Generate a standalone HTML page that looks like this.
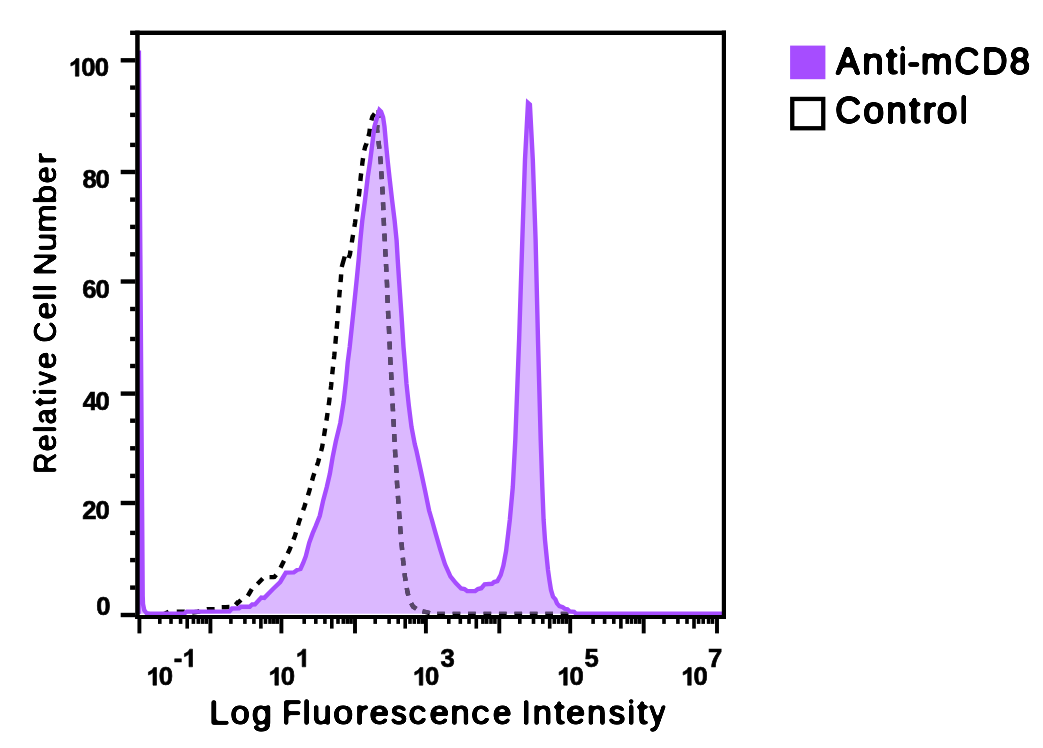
<!DOCTYPE html>
<html><head><meta charset="utf-8"><title>Histogram</title>
<style>html,body{margin:0;padding:0;background:#fff}svg{display:block}text{font-family:"Liberation Sans",sans-serif;fill:#000}</style></head><body>
<svg width="1043" height="748" viewBox="0 0 1043 748">
<defs><filter id="soft" x="-5%" y="-5%" width="110%" height="110%" color-interpolation-filters="sRGB"><feGaussianBlur stdDeviation="0.3"/></filter><filter id="rnd" x="-5%" y="-20%" width="110%" height="140%" color-interpolation-filters="sRGB"><feGaussianBlur stdDeviation="0.8"/><feColorMatrix type="matrix" values="0 0 0 0 0  0 0 0 0 0  0 0 0 0 0  0 0 0 5 -2.4"/></filter></defs>
<rect width="1043" height="748" fill="#fff"/>
<path d="M161.50,614.20 L163.60,614.20 L165.20,613.50 L168.68,611.85 M176.75,611.70 L180.60,611.70 L184.40,611.70 L184.45,611.71 M192.18,612.48 L196.00,612.00 L197.50,611.90 L199.70,611.08 M206.95,609.21 L207.00,609.20 L210.80,609.20 L214.60,609.20 L214.65,609.19 M221.75,607.29 L225.60,607.20 L229.45,607.01 M235.33,601.73 L237.30,603.50 L238.20,602.70 L240.96,600.02 M247.81,595.80 L249.80,592.50 L251.77,589.19 M257.38,584.02 L260.10,581.30 L262.77,578.53 M269.55,577.10 L273.40,577.10 L274.40,577.00 L276.17,574.77 M280.54,567.63 L282.30,564.20 L284.03,560.76 M287.67,553.54 L289.40,550.10 L290.81,546.52 M293.49,539.68 L294.90,536.10 L295.97,532.40 M298.03,525.30 L299.10,521.60 L300.39,517.97 M303.11,510.33 L304.40,506.70 L305.55,503.03 M307.95,495.37 L309.10,491.70 L310.10,487.98 M312.10,480.62 L313.10,476.90 L314.33,473.25 M316.87,465.75 L318.10,462.10 L319.11,458.39 M321.09,451.11 L322.10,447.40 L322.72,443.60 M323.98,436.00 L324.60,432.20 L325.19,428.40 M326.41,420.60 L327.00,416.80 L327.54,412.99 M328.66,405.21 L329.20,401.40 L329.67,397.58 M330.63,389.72 L331.10,385.90 L331.47,382.07 M332.23,374.33 L332.60,370.50 L333.03,366.67 M333.87,359.33 L334.30,355.50 L334.64,351.67 M335.36,343.73 L335.70,339.90 L336.03,336.06 M336.67,328.74 L337.00,324.90 L337.32,321.06 M337.98,313.14 L338.30,309.30 L338.59,305.46 M339.21,297.44 L339.50,293.60 L339.85,289.77 M340.55,282.13 L340.90,278.30 L341.14,274.46 M348.63,258.04 L349.90,254.40 L350.51,250.60 M351.79,242.50 L352.40,238.70 L353.03,234.90 M354.37,226.90 L355.00,223.10 L355.54,219.29 M356.66,211.51 L357.20,207.70 L357.73,203.89 M358.77,196.41 L359.30,192.60 L359.65,188.77 M360.35,181.03 L360.70,177.20 L361.15,173.38 M362.05,165.72 L362.50,161.90 L363.05,158.09 M364.25,150.53 L365.20,146.80 L366.60,143.40 L366.64,143.23 M368.43,136.33 L369.40,132.60 L369.84,128.78 M371.38,120.41 L372.40,116.70 L374.70,113.62 M378.79,110.15 L378.60,114.00 L378.19,117.83 M377.41,125.07 L377.00,128.90 L377.46,132.72 M378.44,140.98 L378.90,144.80 L379.32,148.63 M380.18,156.57 L380.60,160.40 L380.83,164.24 M381.27,171.36 L381.50,175.20 L381.75,179.04 M382.25,186.76 L382.50,190.60 L382.67,194.45 M383.03,202.45 L383.20,206.30 L383.35,210.15 M383.65,217.85 L383.80,221.70 L384.00,225.55 M384.40,233.55 L384.60,237.40 L384.80,241.24 M385.20,249.06 L385.40,252.90 L385.61,256.74 M385.99,264.06 L386.20,267.90 L386.40,271.75 M386.80,279.75 L387.00,283.60 L387.12,287.45 M387.38,295.15 L387.50,299.00 L387.67,302.85 M388.03,310.85 L388.20,314.70 L388.40,318.54 M388.80,326.06 L389.00,329.90 L389.17,333.75 M389.53,341.65 L389.70,345.50 L389.87,349.35 M390.23,357.25 L390.40,361.10 L390.63,364.94 M391.07,372.26 L391.30,376.10 L391.47,379.95 M391.83,387.85 L392.00,391.70 L392.20,395.55 M392.60,403.55 L392.80,407.40 L393.00,411.24 M393.40,419.06 L393.60,422.90 L393.80,426.74 M394.20,434.16 L394.40,438.00 L394.60,441.84 M395.00,449.66 L395.20,453.50 L395.47,457.34 M396.03,465.06 L396.30,468.90 L396.50,472.74 M396.90,480.56 L397.10,484.40 L397.37,488.24 M397.93,495.96 L398.20,499.80 L398.47,503.64 M399.03,511.36 L399.30,515.20 L399.58,519.04 M400.12,526.46 L400.40,530.30 L400.74,534.14 M401.46,542.36 L401.80,546.20 L402.15,550.03 M402.85,557.77 L403.20,561.60 L403.65,565.42 M404.55,573.18 L405.00,577.00 L405.62,580.80 M406.78,588.00 L407.40,591.80 L408.34,595.53 M411.18,603.26 L413.10,606.60 L416.28,608.78 M422.46,611.28 L426.20,612.20 L429.92,613.19 M437.15,614.00 L441.00,614.00 L444.85,614.00 M452.60,614.00 L456.45,614.00 L460.30,614.00 M468.05,614.00 L471.90,614.00 L475.75,614.00 M483.50,614.00 L487.35,614.00 L491.20,614.00 M498.95,614.00 L502.80,614.00 L506.65,614.00 M514.40,614.00 L518.25,614.00 L522.10,614.00 M529.85,614.00 L533.70,614.00 L537.55,614.00 M545.30,614.00 L549.15,614.00 L553.00,614.00 M560.75,614.00 L564.60,614.00 L568.45,614.00 M341.70,267.00 L344.70,256.50" fill="none" stroke="#000" stroke-width="4.4" stroke-linejoin="miter"/>
<polygon points="138.6,613.8 138.9,50.5 142.7,596.0 143.0,604.0 144.2,610.0 146.6,613.3 150.0,613.8 184.0,613.8 186.8,611.6 229.5,611.4 232.0,608.5 239.0,608.3 241.0,606.7 249.8,606.7 252.2,604.5 255.0,604.4 261.3,597.6 264.3,597.9 273.0,589.0 280.2,582.0 285.8,572.6 293.8,572.4 297.1,569.9 300.5,569.0 303.2,563.0 305.8,556.2 309.2,542.8 312.6,533.4 315.8,525.9 319.8,515.8 323.2,500.4 326.8,487.0 329.9,473.6 332.6,457.4 335.8,441.5 340.3,422.9 343.7,401.4 346.1,379.9 347.7,362.4 349.7,347.0 353.7,309.1 357.0,276.8 358.7,259.3 360.3,240.5 362.3,220.4 365.0,200.3 367.7,177.4 370.0,162.0 371.6,149.5 374.4,126.7 377.1,117.3 379.4,110.0 381.1,111.7 383.1,117.3 384.5,126.7 386.2,146.0 387.8,162.0 389.5,177.4 392.1,200.3 394.6,220.4 396.6,240.5 397.7,259.3 399.3,283.6 401.6,317.1 403.5,347.0 404.8,362.4 406.5,383.9 408.8,405.4 411.5,427.0 414.8,444.3 416.3,450.1 420.7,470.3 425.0,490.4 429.1,510.5 431.9,520.0 435.6,533.4 440.3,549.5 445.0,564.3 450.4,576.4 455.8,583.1 461.1,588.5 464.5,589.1 467.2,591.1 475.2,591.1 477.9,589.1 481.3,588.2 484.6,584.4 492.0,583.8 494.0,582.0 497.4,581.1 500.7,575.0 503.4,565.6 506.1,550.9 508.2,533.4 509.8,520.0 512.8,487.0 515.3,440.0 519.1,340.0 522.3,240.0 525.0,159.5 528.0,102.9 529.9,104.6 532.8,159.5 535.6,240.0 538.0,340.0 540.7,440.0 542.3,487.0 543.6,520.0 545.0,540.1 547.0,560.3 548.0,570.0 549.4,580.0 551.0,590.0 553.0,596.7 555.4,599.4 557.0,603.4 559.4,606.1 562.7,607.1 564.7,608.8 567.4,609.4 569.7,611.4 574.1,611.8 576.1,613.8 722.0,613.8 722.0,613.8 138.6,613.8" fill="#a64dff" fill-opacity="0.4"/>
<clipPath id="fc"><polygon points="138.6,613.8 138.9,50.5 142.7,596.0 143.0,604.0 144.2,610.0 146.6,613.3 150.0,613.8 184.0,613.8 186.8,611.6 229.5,611.4 232.0,608.5 239.0,608.3 241.0,606.7 249.8,606.7 252.2,604.5 255.0,604.4 261.3,597.6 264.3,597.9 273.0,589.0 280.2,582.0 285.8,572.6 293.8,572.4 297.1,569.9 300.5,569.0 303.2,563.0 305.8,556.2 309.2,542.8 312.6,533.4 315.8,525.9 319.8,515.8 323.2,500.4 326.8,487.0 329.9,473.6 332.6,457.4 335.8,441.5 340.3,422.9 343.7,401.4 346.1,379.9 347.7,362.4 349.7,347.0 353.7,309.1 357.0,276.8 358.7,259.3 360.3,240.5 362.3,220.4 365.0,200.3 367.7,177.4 370.0,162.0 371.6,149.5 374.4,126.7 377.1,117.3 379.4,110.0 381.1,111.7 383.1,117.3 384.5,126.7 386.2,146.0 387.8,162.0 389.5,177.4 392.1,200.3 394.6,220.4 396.6,240.5 397.7,259.3 399.3,283.6 401.6,317.1 403.5,347.0 404.8,362.4 406.5,383.9 408.8,405.4 411.5,427.0 414.8,444.3 416.3,450.1 420.7,470.3 425.0,490.4 429.1,510.5 431.9,520.0 435.6,533.4 440.3,549.5 445.0,564.3 450.4,576.4 455.8,583.1 461.1,588.5 464.5,589.1 467.2,591.1 475.2,591.1 477.9,589.1 481.3,588.2 484.6,584.4 492.0,583.8 494.0,582.0 497.4,581.1 500.7,575.0 503.4,565.6 506.1,550.9 508.2,533.4 509.8,520.0 512.8,487.0 515.3,440.0 519.1,340.0 522.3,240.0 525.0,159.5 528.0,102.9 529.9,104.6 532.8,159.5 535.6,240.0 538.0,340.0 540.7,440.0 542.3,487.0 543.6,520.0 545.0,540.1 547.0,560.3 548.0,570.0 549.4,580.0 551.0,590.0 553.0,596.7 555.4,599.4 557.0,603.4 559.4,606.1 562.7,607.1 564.7,608.8 567.4,609.4 569.7,611.4 574.1,611.8 576.1,613.8 722.0,613.8 722.0,613.8 138.6,613.8"/></clipPath>
<path clip-path="url(#fc)" d="M161.50,614.20 L163.60,614.20 L165.20,613.50 L168.68,611.85 M176.75,611.70 L180.60,611.70 L184.40,611.70 L184.45,611.71 M192.18,612.48 L196.00,612.00 L197.50,611.90 L199.70,611.08 M206.95,609.21 L207.00,609.20 L210.80,609.20 L214.60,609.20 L214.65,609.19 M221.75,607.29 L225.60,607.20 L229.45,607.01 M235.33,601.73 L237.30,603.50 L238.20,602.70 L240.96,600.02 M247.81,595.80 L249.80,592.50 L251.77,589.19 M257.38,584.02 L260.10,581.30 L262.77,578.53 M269.55,577.10 L273.40,577.10 L274.40,577.00 L276.17,574.77 M280.54,567.63 L282.30,564.20 L284.03,560.76 M287.67,553.54 L289.40,550.10 L290.81,546.52 M293.49,539.68 L294.90,536.10 L295.97,532.40 M298.03,525.30 L299.10,521.60 L300.39,517.97 M303.11,510.33 L304.40,506.70 L305.55,503.03 M307.95,495.37 L309.10,491.70 L310.10,487.98 M312.10,480.62 L313.10,476.90 L314.33,473.25 M316.87,465.75 L318.10,462.10 L319.11,458.39 M321.09,451.11 L322.10,447.40 L322.72,443.60 M323.98,436.00 L324.60,432.20 L325.19,428.40 M326.41,420.60 L327.00,416.80 L327.54,412.99 M328.66,405.21 L329.20,401.40 L329.67,397.58 M330.63,389.72 L331.10,385.90 L331.47,382.07 M332.23,374.33 L332.60,370.50 L333.03,366.67 M333.87,359.33 L334.30,355.50 L334.64,351.67 M335.36,343.73 L335.70,339.90 L336.03,336.06 M336.67,328.74 L337.00,324.90 L337.32,321.06 M337.98,313.14 L338.30,309.30 L338.59,305.46 M339.21,297.44 L339.50,293.60 L339.85,289.77 M340.55,282.13 L340.90,278.30 L341.14,274.46 M348.63,258.04 L349.90,254.40 L350.51,250.60 M351.79,242.50 L352.40,238.70 L353.03,234.90 M354.37,226.90 L355.00,223.10 L355.54,219.29 M356.66,211.51 L357.20,207.70 L357.73,203.89 M358.77,196.41 L359.30,192.60 L359.65,188.77 M360.35,181.03 L360.70,177.20 L361.15,173.38 M362.05,165.72 L362.50,161.90 L363.05,158.09 M364.25,150.53 L365.20,146.80 L366.60,143.40 L366.64,143.23 M368.43,136.33 L369.40,132.60 L369.84,128.78 M371.38,120.41 L372.40,116.70 L374.70,113.62 M378.79,110.15 L378.60,114.00 L378.19,117.83 M377.41,125.07 L377.00,128.90 L377.46,132.72 M378.44,140.98 L378.90,144.80 L379.32,148.63 M380.18,156.57 L380.60,160.40 L380.83,164.24 M381.27,171.36 L381.50,175.20 L381.75,179.04 M382.25,186.76 L382.50,190.60 L382.67,194.45 M383.03,202.45 L383.20,206.30 L383.35,210.15 M383.65,217.85 L383.80,221.70 L384.00,225.55 M384.40,233.55 L384.60,237.40 L384.80,241.24 M385.20,249.06 L385.40,252.90 L385.61,256.74 M385.99,264.06 L386.20,267.90 L386.40,271.75 M386.80,279.75 L387.00,283.60 L387.12,287.45 M387.38,295.15 L387.50,299.00 L387.67,302.85 M388.03,310.85 L388.20,314.70 L388.40,318.54 M388.80,326.06 L389.00,329.90 L389.17,333.75 M389.53,341.65 L389.70,345.50 L389.87,349.35 M390.23,357.25 L390.40,361.10 L390.63,364.94 M391.07,372.26 L391.30,376.10 L391.47,379.95 M391.83,387.85 L392.00,391.70 L392.20,395.55 M392.60,403.55 L392.80,407.40 L393.00,411.24 M393.40,419.06 L393.60,422.90 L393.80,426.74 M394.20,434.16 L394.40,438.00 L394.60,441.84 M395.00,449.66 L395.20,453.50 L395.47,457.34 M396.03,465.06 L396.30,468.90 L396.50,472.74 M396.90,480.56 L397.10,484.40 L397.37,488.24 M397.93,495.96 L398.20,499.80 L398.47,503.64 M399.03,511.36 L399.30,515.20 L399.58,519.04 M400.12,526.46 L400.40,530.30 L400.74,534.14 M401.46,542.36 L401.80,546.20 L402.15,550.03 M402.85,557.77 L403.20,561.60 L403.65,565.42 M404.55,573.18 L405.00,577.00 L405.62,580.80 M406.78,588.00 L407.40,591.80 L408.34,595.53 M411.18,603.26 L413.10,606.60 L416.28,608.78 M422.46,611.28 L426.20,612.20 L429.92,613.19 M437.15,614.00 L441.00,614.00 L444.85,614.00 M452.60,614.00 L456.45,614.00 L460.30,614.00 M468.05,614.00 L471.90,614.00 L475.75,614.00 M483.50,614.00 L487.35,614.00 L491.20,614.00 M498.95,614.00 L502.80,614.00 L506.65,614.00 M514.40,614.00 L518.25,614.00 L522.10,614.00 M529.85,614.00 L533.70,614.00 L537.55,614.00 M545.30,614.00 L549.15,614.00 L553.00,614.00 M560.75,614.00 L564.60,614.00 L568.45,614.00 M341.70,267.00 L344.70,256.50" fill="none" stroke="#584869" stroke-width="4.4" stroke-linejoin="miter"/>
<polyline points="138.6,613.8 138.9,50.5 142.7,596.0 143.0,604.0 144.2,610.0 146.6,613.3 150.0,613.8 184.0,613.8 186.8,611.6 229.5,611.4 232.0,608.5 239.0,608.3 241.0,606.7 249.8,606.7 252.2,604.5 255.0,604.4 261.3,597.6 264.3,597.9 273.0,589.0 280.2,582.0 285.8,572.6 293.8,572.4 297.1,569.9 300.5,569.0 303.2,563.0 305.8,556.2 309.2,542.8 312.6,533.4 315.8,525.9 319.8,515.8 323.2,500.4 326.8,487.0 329.9,473.6 332.6,457.4 335.8,441.5 340.3,422.9 343.7,401.4 346.1,379.9 347.7,362.4 349.7,347.0 353.7,309.1 357.0,276.8 358.7,259.3 360.3,240.5 362.3,220.4 365.0,200.3 367.7,177.4 370.0,162.0 371.6,149.5 374.4,126.7 377.1,117.3 379.4,110.0 381.1,111.7 383.1,117.3 384.5,126.7 386.2,146.0 387.8,162.0 389.5,177.4 392.1,200.3 394.6,220.4 396.6,240.5 397.7,259.3 399.3,283.6 401.6,317.1 403.5,347.0 404.8,362.4 406.5,383.9 408.8,405.4 411.5,427.0 414.8,444.3 416.3,450.1 420.7,470.3 425.0,490.4 429.1,510.5 431.9,520.0 435.6,533.4 440.3,549.5 445.0,564.3 450.4,576.4 455.8,583.1 461.1,588.5 464.5,589.1 467.2,591.1 475.2,591.1 477.9,589.1 481.3,588.2 484.6,584.4 492.0,583.8 494.0,582.0 497.4,581.1 500.7,575.0 503.4,565.6 506.1,550.9 508.2,533.4 509.8,520.0 512.8,487.0 515.3,440.0 519.1,340.0 522.3,240.0 525.0,159.5 528.0,102.9 529.9,104.6 532.8,159.5 535.6,240.0 538.0,340.0 540.7,440.0 542.3,487.0 543.6,520.0 545.0,540.1 547.0,560.3 548.0,570.0 549.4,580.0 551.0,590.0 553.0,596.7 555.4,599.4 557.0,603.4 559.4,606.1 562.7,607.1 564.7,608.8 567.4,609.4 569.7,611.4 574.1,611.8 576.1,613.8 722.0,613.8" fill="none" stroke="#a64dff" stroke-width="4.4" stroke-linejoin="miter" stroke-miterlimit="10"/>
<g fill="#000">
<rect x="130.1" y="30.6" width="595.9" height="4.4"/>
<rect x="721.8" y="30.6" width="4.2" height="588.4"/>
<rect x="135.2" y="30.6" width="4.5" height="588.4"/>
<rect x="135.2" y="615" width="590.8" height="4"/>
<rect x="120.7" y="58.1" width="14.7" height="4.4"/>
<rect x="130.1" y="85.4" width="5.3" height="4.4"/>
<rect x="130.1" y="112.7" width="5.3" height="4.4"/>
<rect x="130.1" y="142.7" width="5.3" height="4.4"/>
<rect x="120.7" y="169.8" width="14.7" height="4.4"/>
<rect x="130.1" y="197.4" width="5.3" height="4.4"/>
<rect x="130.1" y="224.7" width="5.3" height="4.4"/>
<rect x="130.1" y="252.1" width="5.3" height="4.4"/>
<rect x="120.7" y="279.3" width="14.7" height="4.4"/>
<rect x="130.1" y="306.8" width="5.3" height="4.4"/>
<rect x="130.1" y="336.8" width="5.3" height="4.4"/>
<rect x="130.1" y="363.8" width="5.3" height="4.4"/>
<rect x="120.7" y="391.4" width="14.7" height="4.4"/>
<rect x="130.1" y="418.5" width="5.3" height="4.4"/>
<rect x="130.1" y="446.1" width="5.3" height="4.4"/>
<rect x="130.1" y="473.7" width="5.3" height="4.4"/>
<rect x="120.7" y="500.8" width="14.7" height="4.4"/>
<rect x="130.1" y="530.7" width="5.3" height="4.4"/>
<rect x="130.1" y="557.9" width="5.3" height="4.4"/>
<rect x="130.1" y="585.4" width="5.3" height="4.4"/>
<rect x="120.7" y="612.8" width="14.7" height="4.4"/>
<rect x="137.45" y="618" width="3.9" height="15.4"/>
<rect x="208.45" y="618" width="3.9" height="15.4"/>
<rect x="279.45" y="618" width="3.9" height="15.4"/>
<rect x="353.05" y="618" width="3.9" height="15.4"/>
<rect x="423.95" y="618" width="3.9" height="15.4"/>
<rect x="497.35" y="618" width="3.9" height="15.4"/>
<rect x="568.25" y="618" width="3.9" height="15.4"/>
<rect x="641.75" y="618" width="3.9" height="15.4"/>
<rect x="715.05" y="618" width="3.9" height="15.4"/>
<rect x="158.00" y="618" width="3.6" height="5.9"/>
<rect x="169.20" y="618" width="3.6" height="5.9"/>
<rect x="178.80" y="618" width="3.6" height="5.9"/>
<rect x="185.40" y="618" width="3.6" height="10.6"/>
<rect x="191.60" y="618" width="3.6" height="5.9"/>
<rect x="196.50" y="618" width="3.6" height="5.9"/>
<rect x="200.70" y="618" width="3.6" height="5.9"/>
<rect x="204.50" y="618" width="3.6" height="5.9"/>
<rect x="229.10" y="618" width="3.6" height="5.9"/>
<rect x="243.10" y="618" width="3.6" height="5.9"/>
<rect x="252.10" y="618" width="3.6" height="5.9"/>
<rect x="259.10" y="618" width="3.6" height="10.6"/>
<rect x="263.70" y="618" width="3.6" height="5.9"/>
<rect x="268.20" y="618" width="3.6" height="5.9"/>
<rect x="272.00" y="618" width="3.6" height="5.9"/>
<rect x="275.40" y="618" width="3.6" height="5.9"/>
<rect x="302.40" y="618" width="3.6" height="5.9"/>
<rect x="314.00" y="618" width="3.6" height="5.9"/>
<rect x="323.10" y="618" width="3.6" height="5.9"/>
<rect x="330.00" y="618" width="3.6" height="10.6"/>
<rect x="336.20" y="618" width="3.6" height="5.9"/>
<rect x="341.50" y="618" width="3.6" height="5.9"/>
<rect x="345.50" y="618" width="3.6" height="5.9"/>
<rect x="349.20" y="618" width="3.6" height="5.9"/>
<rect x="373.40" y="618" width="3.6" height="5.9"/>
<rect x="387.30" y="618" width="3.6" height="5.9"/>
<rect x="396.40" y="618" width="3.6" height="5.9"/>
<rect x="403.40" y="618" width="3.6" height="10.6"/>
<rect x="408.20" y="618" width="3.6" height="5.9"/>
<rect x="412.50" y="618" width="3.6" height="5.9"/>
<rect x="417.00" y="618" width="3.6" height="5.9"/>
<rect x="420.70" y="618" width="3.6" height="5.9"/>
<rect x="447.00" y="618" width="3.6" height="5.9"/>
<rect x="458.50" y="618" width="3.6" height="5.9"/>
<rect x="467.20" y="618" width="3.6" height="5.9"/>
<rect x="474.50" y="618" width="3.6" height="10.6"/>
<rect x="481.10" y="618" width="3.6" height="5.9"/>
<rect x="484.90" y="618" width="3.6" height="5.9"/>
<rect x="489.20" y="618" width="3.6" height="5.9"/>
<rect x="493.10" y="618" width="3.6" height="5.9"/>
<rect x="518.00" y="618" width="3.6" height="5.9"/>
<rect x="531.70" y="618" width="3.6" height="5.9"/>
<rect x="541.00" y="618" width="3.6" height="5.9"/>
<rect x="547.90" y="618" width="3.6" height="10.6"/>
<rect x="552.50" y="618" width="3.6" height="5.9"/>
<rect x="556.80" y="618" width="3.6" height="5.9"/>
<rect x="560.80" y="618" width="3.6" height="5.9"/>
<rect x="564.50" y="618" width="3.6" height="5.9"/>
<rect x="591.30" y="618" width="3.6" height="5.9"/>
<rect x="602.80" y="618" width="3.6" height="5.9"/>
<rect x="612.00" y="618" width="3.6" height="5.9"/>
<rect x="619.10" y="618" width="3.6" height="10.6"/>
<rect x="625.40" y="618" width="3.6" height="5.9"/>
<rect x="629.70" y="618" width="3.6" height="5.9"/>
<rect x="634.00" y="618" width="3.6" height="5.9"/>
<rect x="637.80" y="618" width="3.6" height="5.9"/>
<rect x="662.20" y="618" width="3.6" height="5.9"/>
<rect x="676.10" y="618" width="3.6" height="5.9"/>
<rect x="685.20" y="618" width="3.6" height="5.9"/>
<rect x="692.20" y="618" width="3.6" height="10.6"/>
<rect x="696.80" y="618" width="3.6" height="5.9"/>
<rect x="701.40" y="618" width="3.6" height="5.9"/>
<rect x="706.80" y="618" width="3.6" height="5.9"/>
<rect x="710.70" y="618" width="3.6" height="5.9"/>
</g>
<g filter="url(#soft)">
<path transform="translate(64.89,76.20) scale(0.012521,-0.011990)" d="M1120 0H839V1059Q685 915 476 846V1101Q586 1137 715 1237.5T892 1472H1120Z" stroke="#000" stroke-width="54.5" stroke-linejoin="miter"/>
<text transform="translate(81.32,76.20) scale(0.975,1)" font-size="26.3" font-weight="bold" stroke="#000" stroke-width="0.7" stroke-linejoin="miter">0</text>
<text transform="translate(94.72,76.20) scale(0.975,1)" font-size="26.3" font-weight="bold" stroke="#000" stroke-width="0.7" stroke-linejoin="miter">0</text>
<text transform="translate(82.48,188.10) scale(0.975,1)" font-size="26.3" font-weight="bold" stroke="#000" stroke-width="0.7" stroke-linejoin="miter">8</text>
<text transform="translate(95.62,188.10) scale(0.975,1)" font-size="26.3" font-weight="bold" stroke="#000" stroke-width="0.7" stroke-linejoin="miter">0</text>
<text transform="translate(82.35,297.80) scale(0.975,1)" font-size="26.3" font-weight="bold" stroke="#000" stroke-width="0.7" stroke-linejoin="miter">6</text>
<text transform="translate(95.62,297.80) scale(0.975,1)" font-size="26.3" font-weight="bold" stroke="#000" stroke-width="0.7" stroke-linejoin="miter">0</text>
<text transform="translate(82.87,409.80) scale(0.975,1)" font-size="26.3" font-weight="bold" stroke="#000" stroke-width="0.7" stroke-linejoin="miter">4</text>
<text transform="translate(95.62,409.80) scale(0.975,1)" font-size="26.3" font-weight="bold" stroke="#000" stroke-width="0.7" stroke-linejoin="miter">0</text>
<text transform="translate(82.35,519.20) scale(0.975,1)" font-size="26.3" font-weight="bold" stroke="#000" stroke-width="0.7" stroke-linejoin="miter">2</text>
<text transform="translate(95.62,519.20) scale(0.975,1)" font-size="26.3" font-weight="bold" stroke="#000" stroke-width="0.7" stroke-linejoin="miter">0</text>
<text transform="translate(96.22,615.10) scale(0.975,1)" font-size="26.3" font-weight="bold" stroke="#000" stroke-width="0.7" stroke-linejoin="miter">0</text>
<path transform="translate(142.49,685.20) scale(0.012521,-0.011990)" d="M1120 0H839V1059Q685 915 476 846V1101Q586 1137 715 1237.5T892 1472H1120Z" stroke="#000" stroke-width="54.5" stroke-linejoin="miter"/>
<text transform="translate(158.82,685.20) scale(0.975,1)" font-size="26.3" font-weight="bold" stroke="#000" stroke-width="0.7" stroke-linejoin="miter">0</text>
<path transform="translate(264.39,685.20) scale(0.012521,-0.011990)" d="M1120 0H839V1059Q685 915 476 846V1101Q586 1137 715 1237.5T892 1472H1120Z" stroke="#000" stroke-width="54.5" stroke-linejoin="miter"/>
<text transform="translate(280.72,685.20) scale(0.975,1)" font-size="26.3" font-weight="bold" stroke="#000" stroke-width="0.7" stroke-linejoin="miter">0</text>
<path transform="translate(408.79,685.20) scale(0.012521,-0.011990)" d="M1120 0H839V1059Q685 915 476 846V1101Q586 1137 715 1237.5T892 1472H1120Z" stroke="#000" stroke-width="54.5" stroke-linejoin="miter"/>
<text transform="translate(425.12,685.20) scale(0.975,1)" font-size="26.3" font-weight="bold" stroke="#000" stroke-width="0.7" stroke-linejoin="miter">0</text>
<path transform="translate(553.19,685.20) scale(0.012521,-0.011990)" d="M1120 0H839V1059Q685 915 476 846V1101Q586 1137 715 1237.5T892 1472H1120Z" stroke="#000" stroke-width="54.5" stroke-linejoin="miter"/>
<text transform="translate(569.52,685.20) scale(0.975,1)" font-size="26.3" font-weight="bold" stroke="#000" stroke-width="0.7" stroke-linejoin="miter">0</text>
<path transform="translate(677.19,685.20) scale(0.012521,-0.011990)" d="M1120 0H839V1059Q685 915 476 846V1101Q586 1137 715 1237.5T892 1472H1120Z" stroke="#000" stroke-width="54.5" stroke-linejoin="miter"/>
<text transform="translate(693.52,685.20) scale(0.975,1)" font-size="26.3" font-weight="bold" stroke="#000" stroke-width="0.7" stroke-linejoin="miter">0</text>
<text transform="translate(173.82,666.80) scale(0.975,1)" font-size="26.3" font-weight="bold" stroke="#000" stroke-width="0.7" stroke-linejoin="miter">-</text>
<path transform="translate(178.49,666.80) scale(0.012521,-0.011990)" d="M1120 0H839V1059Q685 915 476 846V1101Q586 1137 715 1237.5T892 1472H1120Z" stroke="#000" stroke-width="54.5" stroke-linejoin="miter"/>
<path transform="translate(291.69,666.80) scale(0.012521,-0.011990)" d="M1120 0H839V1059Q685 915 476 846V1101Q586 1137 715 1237.5T892 1472H1120Z" stroke="#000" stroke-width="54.5" stroke-linejoin="miter"/>
<text transform="translate(440.41,666.80) scale(0.975,1)" font-size="26.3" font-weight="bold" stroke="#000" stroke-width="0.7" stroke-linejoin="miter">3</text>
<text transform="translate(584.58,666.80) scale(0.975,1)" font-size="26.3" font-weight="bold" stroke="#000" stroke-width="0.7" stroke-linejoin="miter">5</text>
<text transform="translate(708.00,666.80) scale(0.975,1)" font-size="26.3" font-weight="bold" stroke="#000" stroke-width="0.7" stroke-linejoin="miter">7</text>
</g>
<g filter="url(#rnd)">
<text transform="translate(219.95,724.20) scale(1.083,1)" x="-9.98" font-size="33" font-weight="normal" stroke="#000" stroke-linejoin="round" stroke-linecap="round" stroke-width="2.0" vector-effect="non-scaling-stroke">L</text>
<text transform="translate(240.10,724.20) scale(1.046,1)" x="-9.16" font-size="33" font-weight="normal" stroke="#000" stroke-linejoin="round" stroke-linecap="round" stroke-width="2.0" vector-effect="non-scaling-stroke">o</text>
<text transform="translate(261.40,724.20) scale(1.104,1)" x="-8.75" font-size="33" font-weight="normal" stroke="#000" stroke-linejoin="round" stroke-linecap="round" stroke-width="2.0" vector-effect="non-scaling-stroke">g</text>
<text transform="translate(292.45,724.20) scale(0.946,1)" x="-10.72" font-size="33" font-weight="normal" stroke="#000" stroke-linejoin="round" stroke-linecap="round" stroke-width="2.0" vector-effect="non-scaling-stroke">F</text>
<text transform="translate(306.55,724.20) scale(1.044,1)" x="-3.63" font-size="33" font-weight="normal" stroke="#000" stroke-linejoin="round" stroke-linecap="round" stroke-width="2.0" vector-effect="non-scaling-stroke">l</text>
<text transform="translate(321.85,724.20) scale(1.034,1)" x="-9.16" font-size="33" font-weight="normal" stroke="#000" stroke-linejoin="round" stroke-linecap="round" stroke-width="2.0" vector-effect="non-scaling-stroke">u</text>
<text transform="translate(343.30,724.20) scale(1.085,1)" x="-9.16" font-size="33" font-weight="normal" stroke="#000" stroke-linejoin="round" stroke-linecap="round" stroke-width="2.0" vector-effect="non-scaling-stroke">o</text>
<text transform="translate(362.55,724.20) scale(1.120,1)" x="-6.27" font-size="33" font-weight="normal" stroke="#000" stroke-linejoin="round" stroke-linecap="round" stroke-width="2.0" vector-effect="non-scaling-stroke">r</text>
<text transform="translate(379.20,724.20) scale(1.069,1)" x="-9.16" font-size="33" font-weight="normal" stroke="#000" stroke-linejoin="round" stroke-linecap="round" stroke-width="2.0" vector-effect="non-scaling-stroke">e</text>
<text transform="translate(398.75,724.20) scale(0.982,1)" x="-8.17" font-size="33" font-weight="normal" stroke="#000" stroke-linejoin="round" stroke-linecap="round" stroke-width="2.0" vector-effect="non-scaling-stroke">s</text>
<text transform="translate(417.80,724.20) scale(1.085,1)" x="-8.58" font-size="33" font-weight="normal" stroke="#000" stroke-linejoin="round" stroke-linecap="round" stroke-width="2.0" vector-effect="non-scaling-stroke">c</text>
<text transform="translate(439.20,724.20) scale(1.069,1)" x="-9.16" font-size="33" font-weight="normal" stroke="#000" stroke-linejoin="round" stroke-linecap="round" stroke-width="2.0" vector-effect="non-scaling-stroke">e</text>
<text transform="translate(460.15,724.20) scale(1.048,1)" x="-9.16" font-size="33" font-weight="normal" stroke="#000" stroke-linejoin="round" stroke-linecap="round" stroke-width="2.0" vector-effect="non-scaling-stroke">n</text>
<text transform="translate(480.90,724.20) scale(1.113,1)" x="-8.58" font-size="33" font-weight="normal" stroke="#000" stroke-linejoin="round" stroke-linecap="round" stroke-width="2.0" vector-effect="non-scaling-stroke">c</text>
<text transform="translate(502.15,724.20) scale(1.023,1)" x="-9.16" font-size="33" font-weight="normal" stroke="#000" stroke-linejoin="round" stroke-linecap="round" stroke-width="2.0" vector-effect="non-scaling-stroke">e</text>
<text transform="translate(526.20,724.20) scale(1.021,1)" x="-4.54" font-size="33" font-weight="normal" stroke="#000" stroke-linejoin="round" stroke-linecap="round" stroke-width="2.0" vector-effect="non-scaling-stroke">I</text>
<text transform="translate(542.25,724.20) scale(1.048,1)" x="-9.16" font-size="33" font-weight="normal" stroke="#000" stroke-linejoin="round" stroke-linecap="round" stroke-width="2.0" vector-effect="non-scaling-stroke">n</text>
<text transform="translate(559.55,724.20) scale(1.120,1)" x="-4.70" font-size="33" font-weight="normal" stroke="#000" stroke-linejoin="round" stroke-linecap="round" stroke-width="2.0" vector-effect="non-scaling-stroke">t</text>
<text transform="translate(575.65,724.20) scale(1.049,1)" x="-9.16" font-size="33" font-weight="normal" stroke="#000" stroke-linejoin="round" stroke-linecap="round" stroke-width="2.0" vector-effect="non-scaling-stroke">e</text>
<text transform="translate(596.55,724.20) scale(1.048,1)" x="-9.16" font-size="33" font-weight="normal" stroke="#000" stroke-linejoin="round" stroke-linecap="round" stroke-width="2.0" vector-effect="non-scaling-stroke">n</text>
<text transform="translate(616.90,724.20) scale(1.017,1)" x="-8.17" font-size="33" font-weight="normal" stroke="#000" stroke-linejoin="round" stroke-linecap="round" stroke-width="2.0" vector-effect="non-scaling-stroke">s</text>
<text transform="translate(631.20,724.20) scale(1.077,1)" x="-3.63" font-size="33" font-weight="normal" stroke="#000" stroke-linejoin="round" stroke-linecap="round" stroke-width="2.0" vector-effect="non-scaling-stroke">i</text>
<text transform="translate(642.45,724.20) scale(1.120,1)" x="-4.70" font-size="33" font-weight="normal" stroke="#000" stroke-linejoin="round" stroke-linecap="round" stroke-width="2.0" vector-effect="non-scaling-stroke">t</text>
<text transform="translate(657.40,724.20) scale(0.940,1)" x="-8.25" font-size="33" font-weight="normal" stroke="#000" stroke-linejoin="round" stroke-linecap="round" stroke-width="2.0" vector-effect="non-scaling-stroke">y</text>
<text transform="translate(55.50,462.75) rotate(-90) scale(0.930,1)" x="-11.89" font-size="31.7" font-weight="normal" stroke="#000" stroke-linejoin="round" stroke-linecap="round" stroke-width="1.5" vector-effect="non-scaling-stroke">R</text>
<text transform="translate(55.50,442.85) rotate(-90) scale(0.990,1)" x="-8.80" font-size="31.7" font-weight="normal" stroke="#000" stroke-linejoin="round" stroke-linecap="round" stroke-width="1.5" vector-effect="non-scaling-stroke">e</text>
<text transform="translate(55.50,429.35) rotate(-90) scale(1.052,1)" x="-3.49" font-size="31.7" font-weight="normal" stroke="#000" stroke-linejoin="round" stroke-linecap="round" stroke-width="1.5" vector-effect="non-scaling-stroke">l</text>
<text transform="translate(55.50,415.85) rotate(-90) scale(0.920,1)" x="-9.51" font-size="31.7" font-weight="normal" stroke="#000" stroke-linejoin="round" stroke-linecap="round" stroke-width="1.5" vector-effect="non-scaling-stroke">a</text>
<text transform="translate(55.50,401.70) rotate(-90) scale(1.002,1)" x="-4.52" font-size="31.7" font-weight="normal" stroke="#000" stroke-linejoin="round" stroke-linecap="round" stroke-width="1.5" vector-effect="non-scaling-stroke">t</text>
<text transform="translate(55.50,391.80) rotate(-90) scale(1.120,1)" x="-3.49" font-size="31.7" font-weight="normal" stroke="#000" stroke-linejoin="round" stroke-linecap="round" stroke-width="1.5" vector-effect="non-scaling-stroke">i</text>
<text transform="translate(55.50,378.45) rotate(-90) scale(0.920,1)" x="-7.92" font-size="31.7" font-weight="normal" stroke="#000" stroke-linejoin="round" stroke-linecap="round" stroke-width="1.5" vector-effect="non-scaling-stroke">v</text>
<text transform="translate(55.50,360.60) rotate(-90) scale(0.997,1)" x="-8.80" font-size="31.7" font-weight="normal" stroke="#000" stroke-linejoin="round" stroke-linecap="round" stroke-width="1.5" vector-effect="non-scaling-stroke">e</text>
<text transform="translate(55.50,331.80) rotate(-90) scale(0.926,1)" x="-11.57" font-size="31.7" font-weight="normal" stroke="#000" stroke-linejoin="round" stroke-linecap="round" stroke-width="1.5" vector-effect="non-scaling-stroke">C</text>
<text transform="translate(55.50,310.60) rotate(-90) scale(1.024,1)" x="-8.80" font-size="31.7" font-weight="normal" stroke="#000" stroke-linejoin="round" stroke-linecap="round" stroke-width="1.5" vector-effect="non-scaling-stroke">e</text>
<text transform="translate(55.50,296.55) rotate(-90) scale(1.120,1)" x="-3.49" font-size="31.7" font-weight="normal" stroke="#000" stroke-linejoin="round" stroke-linecap="round" stroke-width="1.5" vector-effect="non-scaling-stroke">l</text>
<text transform="translate(55.50,288.00) rotate(-90) scale(1.120,1)" x="-3.49" font-size="31.7" font-weight="normal" stroke="#000" stroke-linejoin="round" stroke-linecap="round" stroke-width="1.5" vector-effect="non-scaling-stroke">l</text>
<text transform="translate(55.50,264.05) rotate(-90) scale(1.014,1)" x="-11.41" font-size="31.7" font-weight="normal" stroke="#000" stroke-linejoin="round" stroke-linecap="round" stroke-width="1.5" vector-effect="non-scaling-stroke">N</text>
<text transform="translate(55.50,242.15) rotate(-90) scale(1.069,1)" x="-8.80" font-size="31.7" font-weight="normal" stroke="#000" stroke-linejoin="round" stroke-linecap="round" stroke-width="1.5" vector-effect="non-scaling-stroke">u</text>
<text transform="translate(55.50,218.45) rotate(-90) scale(1.064,1)" x="-13.16" font-size="31.7" font-weight="normal" stroke="#000" stroke-linejoin="round" stroke-linecap="round" stroke-width="1.5" vector-effect="non-scaling-stroke">m</text>
<text transform="translate(55.50,193.95) rotate(-90) scale(1.094,1)" x="-9.19" font-size="31.7" font-weight="normal" stroke="#000" stroke-linejoin="round" stroke-linecap="round" stroke-width="1.5" vector-effect="non-scaling-stroke">b</text>
<text transform="translate(55.50,174.75) rotate(-90) scale(0.990,1)" x="-8.80" font-size="31.7" font-weight="normal" stroke="#000" stroke-linejoin="round" stroke-linecap="round" stroke-width="1.5" vector-effect="non-scaling-stroke">e</text>
<text transform="translate(55.50,157.80) rotate(-90) scale(1.120,1)" x="-6.02" font-size="31.7" font-weight="normal" stroke="#000" stroke-linejoin="round" stroke-linecap="round" stroke-width="1.5" vector-effect="non-scaling-stroke">r</text>
<text transform="translate(847.85,74.00) scale(0.979,1)" x="-12.13" font-size="36.2" font-weight="normal" stroke="#000" stroke-linejoin="round" stroke-linecap="round" stroke-width="2.3" vector-effect="non-scaling-stroke">A</text>
<text transform="translate(873.05,74.00) scale(1.066,1)" x="-10.05" font-size="36.2" font-weight="normal" stroke="#000" stroke-linejoin="round" stroke-linecap="round" stroke-width="2.3" vector-effect="non-scaling-stroke">n</text>
<text transform="translate(891.70,74.00) scale(1.120,1)" x="-5.16" font-size="36.2" font-weight="normal" stroke="#000" stroke-linejoin="round" stroke-linecap="round" stroke-width="2.3" vector-effect="non-scaling-stroke">t</text>
<text transform="translate(902.65,74.00) scale(0.921,1)" x="-3.98" font-size="36.2" font-weight="normal" stroke="#000" stroke-linejoin="round" stroke-linecap="round" stroke-width="2.3" vector-effect="non-scaling-stroke">i</text>
<text transform="translate(913.80,74.00) scale(1.049,1)" x="-6.06" font-size="36.2" font-weight="normal" stroke="#000" stroke-linejoin="round" stroke-linecap="round" stroke-width="2.3" vector-effect="non-scaling-stroke">-</text>
<text transform="translate(936.60,74.00) scale(1.054,1)" x="-15.02" font-size="36.2" font-weight="normal" stroke="#000" stroke-linejoin="round" stroke-linecap="round" stroke-width="2.3" vector-effect="non-scaling-stroke">m</text>
<text transform="translate(967.25,74.00) scale(0.956,1)" x="-13.21" font-size="36.2" font-weight="normal" stroke="#000" stroke-linejoin="round" stroke-linecap="round" stroke-width="2.3" vector-effect="non-scaling-stroke">C</text>
<text transform="translate(995.45,74.00) scale(0.966,1)" x="-13.67" font-size="36.2" font-weight="normal" stroke="#000" stroke-linejoin="round" stroke-linecap="round" stroke-width="2.3" vector-effect="non-scaling-stroke">D</text>
<text transform="translate(1019.85,74.00) scale(1.023,1)" x="-10.14" font-size="36.2" font-weight="normal" stroke="#000" stroke-linejoin="round" stroke-linecap="round" stroke-width="2.3" vector-effect="non-scaling-stroke">8</text>
<text transform="translate(848.25,123.30) scale(0.991,1)" x="-13.21" font-size="36.2" font-weight="normal" stroke="#000" stroke-linejoin="round" stroke-linecap="round" stroke-width="2.3" vector-effect="non-scaling-stroke">C</text>
<text transform="translate(873.80,123.30) scale(1.041,1)" x="-10.05" font-size="36.2" font-weight="normal" stroke="#000" stroke-linejoin="round" stroke-linecap="round" stroke-width="2.3" vector-effect="non-scaling-stroke">o</text>
<text transform="translate(896.45,123.30) scale(1.027,1)" x="-10.05" font-size="36.2" font-weight="normal" stroke="#000" stroke-linejoin="round" stroke-linecap="round" stroke-width="2.3" vector-effect="non-scaling-stroke">n</text>
<text transform="translate(914.80,123.30) scale(1.120,1)" x="-5.16" font-size="36.2" font-weight="normal" stroke="#000" stroke-linejoin="round" stroke-linecap="round" stroke-width="2.3" vector-effect="non-scaling-stroke">t</text>
<text transform="translate(930.30,123.30) scale(1.120,1)" x="-6.88" font-size="36.2" font-weight="normal" stroke="#000" stroke-linejoin="round" stroke-linecap="round" stroke-width="2.3" vector-effect="non-scaling-stroke">r</text>
<text transform="translate(947.15,123.30) scale(1.024,1)" x="-10.05" font-size="36.2" font-weight="normal" stroke="#000" stroke-linejoin="round" stroke-linecap="round" stroke-width="2.3" vector-effect="non-scaling-stroke">o</text>
<text transform="translate(963.55,123.30) scale(0.920,1)" x="-3.98" font-size="36.2" font-weight="normal" stroke="#000" stroke-linejoin="round" stroke-linecap="round" stroke-width="2.3" vector-effect="non-scaling-stroke">l</text>
</g>
<rect x="790.1" y="45.6" width="35.3" height="33.6" fill="#a64dff"/>
<rect x="792.25" y="98.95" width="31" height="29.3" fill="#fff" stroke="#000" stroke-width="4.3"/>
</svg></body></html>
